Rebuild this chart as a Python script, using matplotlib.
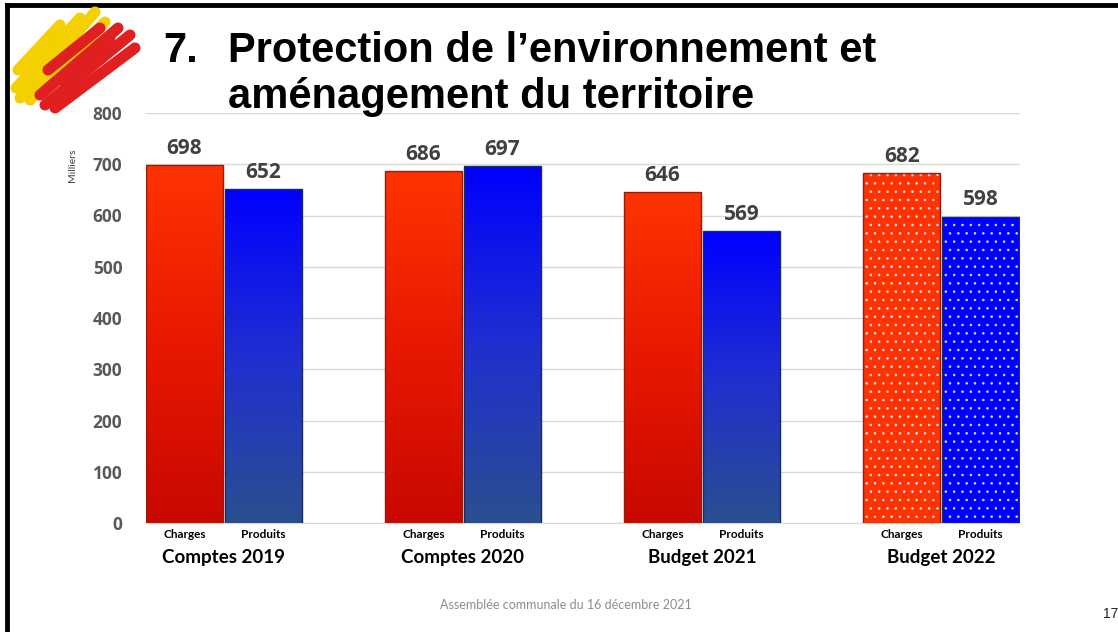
import matplotlib.pyplot as plt
import numpy as np
from matplotlib.colors import LinearSegmentedColormap
from matplotlib.lines import Line2D
from matplotlib.patches import Ellipse

groups = ["Comptes 2019", "Comptes 2020", "Budget 2021", "Budget 2022"]
series = ["Charges", "Produits"]
charges = [698, 686, 646, 682]
produits = [652, 697, 569, 598]
yticks = [0, 100, 200, 300, 400, 500, 600, 700, 800]

W, H = 1118, 632
fig = plt.figure(figsize=(W / 100, H / 100), dpi=100)
fig.patch.set_facecolor("white")
plt.rcParams["hatch.linewidth"] = 0.6

# slide frame (top and left edges only)
fig.add_artist(Line2D([7 / W, 1], [1 - 4.5 / H, 1 - 4.5 / H], color="black", lw=3.5))
fig.add_artist(Line2D([7 / W, 7 / W], [0, 1 - 4.5 / H], color="black", lw=3.5))

# rough logo: yellow / red strokes with black rooster head
def px(x, y):
    return x / W, 1 - y / H

def stroke(x0, y0, x1, y1, c, lw):
    a, b = px(x0, y0)
    c2, d = px(x1, y1)
    fig.add_artist(Line2D([a, c2], [b, d], color=c, lw=lw, solid_capstyle="round"))

for s in [(18, 70, 60, 25), (16, 88, 80, 18), (20, 98, 95, 12), (30, 100, 105, 22), (40, 85, 90, 40)]:
    stroke(*s, "#f5d000", 8)
for s in [(45, 105, 130, 35), (40, 95, 118, 28), (55, 108, 135, 48), (62, 80, 110, 38), (48, 70, 100, 28)]:
    stroke(*s, "#e02020", 8)
cx, cy = px(62, 62)
fig.add_artist(Ellipse((cx, cy), 26 / W, 36 / H, color="#1a0a00"))
cx, cy = px(58, 42)
fig.add_artist(Ellipse((cx, cy), 18 / W, 16 / H, color="#c01010"))

# title
title_font = dict(family="Liberation Sans", weight="bold", size=30, color="black")
fig.text(163 / W, 1 - 62 / H, "7.", **title_font)
fig.text(228 / W, 1 - 62 / H, "Protection de l\u2019environnement et", **title_font)
fig.text(228 / W, 1 - 108 / H, "aménagement du territoire", **title_font)

ax = fig.add_axes([146 / W, 109 / H, 874 / W, 410 / H])
ax.set_facecolor("none")
ax.set_yticks(yticks)
ax.set_yticklabels([str(v) for v in yticks], family="Open Sans", weight="bold", size=12.5, color="#595959")
ax.tick_params(axis="y", length=0, pad=17)
ax.tick_params(axis="x", length=0, labelbottom=False)
for s in ["top", "right", "left"]:
    ax.spines[s].set_visible(False)
ax.spines["bottom"].set_color("#d9d9d9")
ax.grid(axis="y", color="#d9d9d9", lw=1)
ax.set_axisbelow(True)

red_cmap = LinearSegmentedColormap.from_list("r", ["#c80800", "#e81800", "#ff3300"])
blue_cmap = LinearSegmentedColormap.from_list("b", ["#2a4f8f", "#1f2fd0", "#0000ff"])
grad = np.linspace(0, 1, 256).reshape(-1, 1)

bw = 0.322
x = np.arange(len(groups))
for i, g in enumerate(groups):
    for j, (vals, cmap, solid, edge) in enumerate([
        (charges, red_cmap, "#ff3300", "#9a1a0a"),
        (produits, blue_cmap, "#0000ff", "#1a2a60"),
    ]):
        xc = x[i] + (j - 0.5) * (bw + 0.008)
        v = vals[i]
        if i < 3:
            bar = ax.bar(xc, v, bw, color="none", edgecolor=edge, lw=1, zorder=3)[0]
            im = ax.imshow(grad, cmap=cmap, aspect="auto", origin="lower",
                           extent=[xc - bw / 2, xc + bw / 2, 0, v], zorder=2)
            im.set_clip_path(bar)
        else:
            ax.bar(xc, v, bw, color=solid, edgecolor="#d8d8ff", lw=0, hatch="..", zorder=2)
            ax.bar(xc, v, bw, color="none", edgecolor=edge, lw=1, zorder=3)
        ax.text(xc, v + 12, str(v), ha="center", va="bottom", family="Open Sans",
                weight="bold", size=15, color="#404040", zorder=4)
        ax.text(xc, -23, series[j], ha="center", va="center", family="Lato",
                weight="bold", size=8.5, color="black")
    ax.text(x[i], -67, g, ha="center", va="center", family="Lato",
            weight="bold", size=13.5, color="black")

ax.set_xlim(-0.326, 3.33)
ax.set_ylim(0, 800)

fig.text(72 / W, 1 - 165 / H, "Milliers", rotation=90, ha="center", va="center",
         family="Lato", size=7.5, color="#404040")
fig.text(566 / W, 1 - 605 / H, "Assemblée communale du 16 décembre 2021", ha="center",
         va="center", family="Lato", size=9, color="#8c8c8c")
fig.text(1111 / W, 1 - 614 / H, "17", ha="center", va="center",
         family="Liberation Sans", size=10, color="#222222")

fig.savefig("out.png", dpi=100)
